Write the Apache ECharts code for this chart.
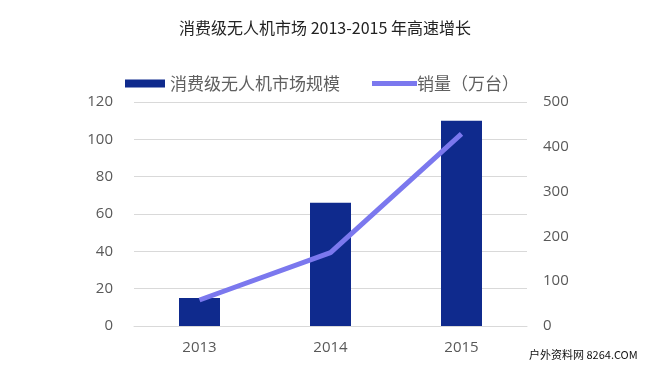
<!DOCTYPE html>
<html><head><meta charset="utf-8">
<script src="https://cdn.jsdelivr.net/npm/echarts@6/dist/echarts.min.js"></script>
<style>html,body{margin:0;padding:0;background:#fff}#c{width:650px;height:366px}</style>
</head><body><div id="c"></div>
<script>
const categories = ['2013', '2014', '2015'];
const marketSize = [15, 66, 110];
const sales = [58, 164, 429];
const leftTicks = { min: 0, max: 120, interval: 20 };
const rightTicks = { min: 0, max: 500, interval: 100 };
const titleText = '消费级无人机市场 2013-2015 年高速增长';
const barName = '消费级无人机市场规模';
const lineName = '销量（万台）';
const watermark = '户外资料网 8264.COM';

const chart = echarts.init(document.getElementById('c'), null, { renderer: 'canvas' });
const cjk = '"Noto Sans CJK SC", "Noto Sans", sans-serif';
const axisFont = { color: '#595959', fontSize: 15, fontFamily: '"Open Sans", "Noto Sans", sans-serif' };
chart.setOption({
  backgroundColor: '#fff',
  animation: false,
  title: [{
    text: titleText, left: 'center', top: 15,
    textStyle: { fontSize: 16, fontWeight: 'normal', color: '#222', fontFamily: cjk }
  }, {
    text: watermark, left: 524, top: 344,
    textStyle: { fontSize: 11, fontWeight: 'normal', color: '#111', fontFamily: cjk }
  }],
  legend: [{
    data: [{ name: barName, icon: 'rect' }],
    left: 120, top: 70, itemWidth: 40, itemHeight: 8,
    textStyle: { fontSize: 17, color: '#606060', fontFamily: cjk, padding: [0, 0, 0, 0] }
  }, {
    data: [{ name: lineName, icon: 'rect' }],
    left: 367, top: 70, itemWidth: 45, itemHeight: 5,
    textStyle: { fontSize: 17, color: '#606060', fontFamily: cjk, padding: [0, 0, 0, -5] }
  }],
  grid: { left: 134, right: 123, top: 102, bottom: 40, containLabel: false },
  xAxis: {
    type: 'category', data: categories,
    axisLine: { show: true, lineStyle: { color: '#d9d9d9', width: 1 } },
    axisTick: { show: false },
    axisLabel: Object.assign({ margin: 14 }, axisFont)
  },
  yAxis: [{
    type: 'value', min: leftTicks.min, max: leftTicks.max, interval: leftTicks.interval,
    axisLine: { show: false }, axisTick: { show: false },
    splitLine: { lineStyle: { color: '#d9d9d9', width: 1 } },
    axisLabel: Object.assign({ margin: 21 }, axisFont)
  }, {
    type: 'value', min: rightTicks.min, max: rightTicks.max, interval: rightTicks.interval,
    axisLine: { show: false }, axisTick: { show: false },
    splitLine: { show: false },
    axisLabel: Object.assign({ margin: 16 }, axisFont)
  }],
  series: [{
    name: barName, type: 'bar', data: marketSize, yAxisIndex: 0,
    barWidth: 41, itemStyle: { color: '#0F2A8D' }
  }, {
    name: lineName, type: 'line', data: sales, yAxisIndex: 1,
    showSymbol: false, symbol: 'none',
    lineStyle: { color: '#7B78EE', width: 5 }, itemStyle: { color: '#7B78EE' }
  }]
});
</script></body></html>
